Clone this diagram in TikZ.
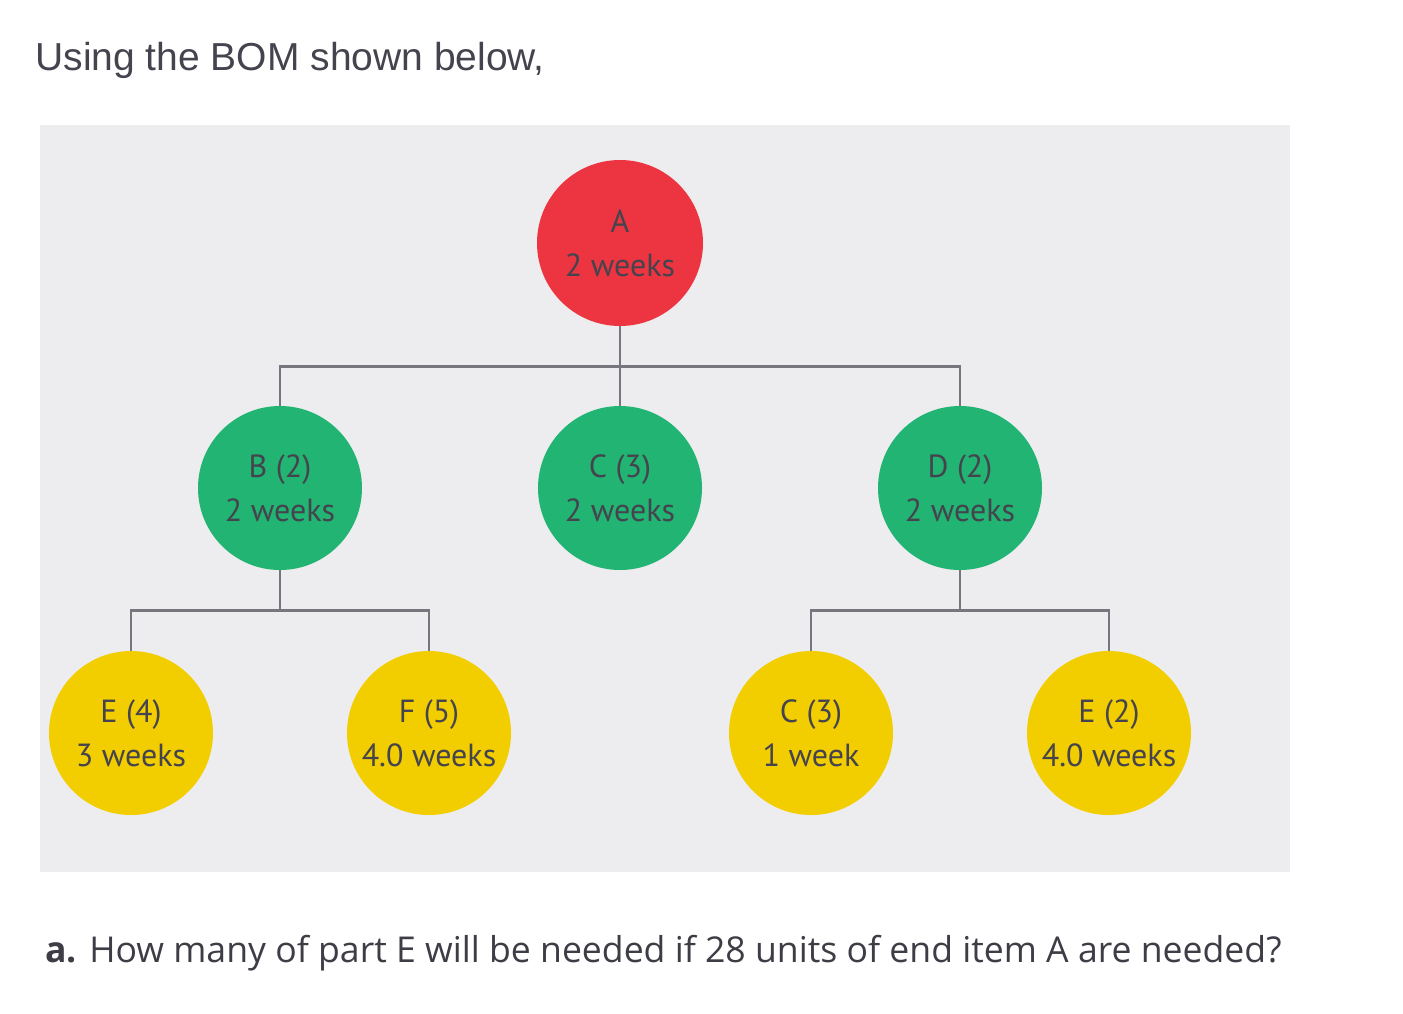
\documentclass[tikz,border=0pt]{standalone}
\usepackage{fontspec}
\setmainfont{Liberation Sans}
\newfontfamily\bomfont{PT Sans}
\newfontfamily\askfont{Open Sans}
\usetikzlibrary{positioning}

\definecolor{partred}{HTML}{EC3540}
\definecolor{partgreen}{HTML}{21B472}
\definecolor{partyellow}{HTML}{F2CD00}
\definecolor{linkgray}{HTML}{77767E}
\definecolor{inkgray}{HTML}{45444E}
\definecolor{panelgray}{HTML}{EDEDEF}

\begin{document}
\begin{tikzpicture}[
    item/.style={circle, draw=none, minimum size=82pt, inner sep=0pt,
        align=center, text=inkgray, font=\bomfont\fontsize{16}{22}\selectfont},
    rootitem/.style={item, fill=partred, minimum size=83pt},
    subitem/.style={item, fill=partgreen},
    leafitem/.style={item, fill=partyellow},
    words/.style={anchor=base west, inner sep=0pt, text=inkgray},
    level distance=122.5pt,
    level 1/.style={sibling distance=170pt},
    level 2/.style={sibling distance=149pt},
    edge from parent/.style={draw=linkgray, line width=1.4pt},
    edge from parent path={(\tikzparentnode.south) -- ++(0,-20pt) -| (\tikzchildnode.north)}
]
\fill[white] (0,0) rectangle (701.5pt,-506.5pt);
\fill[panelgray] (20pt,-62.5pt) rectangle (645pt,-436pt);
\useasboundingbox (0,0) rectangle (701.5pt,-506.5pt);

\node (title) [words, font=\fontsize{19.5}{24}\selectfont]
    at (17.5pt,-35pt) {Using the BOM shown below,};

\node (A) [rootitem] at (310pt,-121.5pt) {A\\2 weeks}
    child{ node (B) [subitem] {B (2)\\2 weeks}
        child{ node (E4) [leafitem] {E (4)\\3 weeks} }
        child{ node (F5) [leafitem] {F (5)\\4.0 weeks} }
    }
    child{ node (C3) [subitem] {C (3)\\2 weeks} }
    child{ node (D2) [subitem] {D (2)\\2 weeks}
        child{ node (C3low) [leafitem] {C (3)\\1 week} }
        child{ node (E2) [leafitem] {E (2)\\4.0 weeks} }
    }
;

\node (question) [words, text=inkgray!90!black, font=\askfont\fontsize{17.8}{21}\selectfont]
    at (22.5pt,-481pt) {\textbf{a.} How many of part E will be needed if 28 units of end item A are needed?};
\end{tikzpicture}
\end{document}
